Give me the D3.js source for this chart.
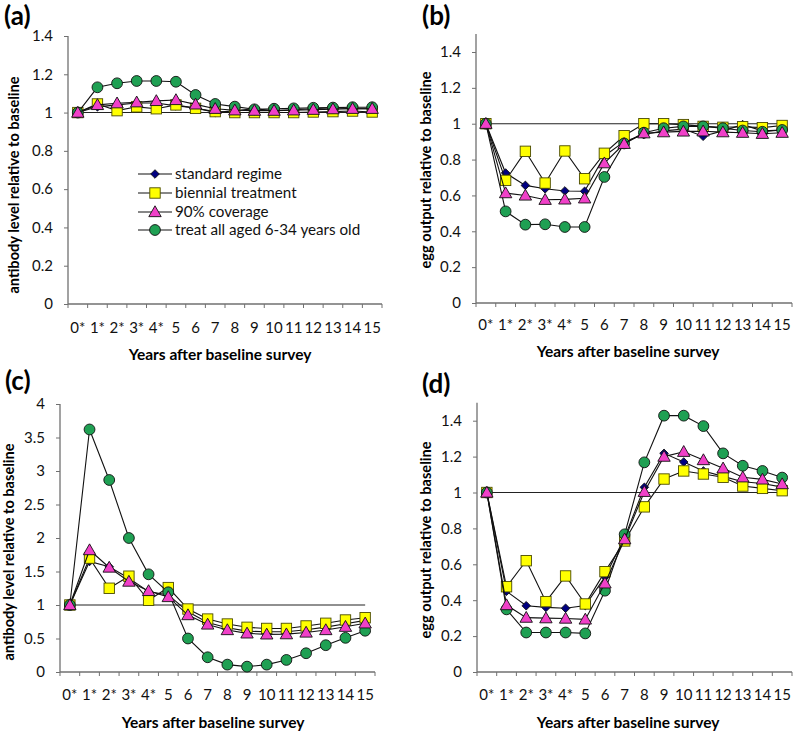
<!DOCTYPE html>
<html>
<head>
<meta charset="utf-8">
<script src="https://cdn.jsdelivr.net/npm/d3@7"></script>
<style>
  html, body { margin: 0; padding: 0; background: #fff; }
  svg { display: block; font-family: Lato, "Open Sans", sans-serif; }
</style>
</head>
<body>
<svg id="chart" width="795" height="734"></svg>
<script>
// ---------- data ----------
const categories = ["0*","1*","2*","3*","4*","5","6","7","8","9","10","11","12","13","14","15"];
const seriesNames = ["standard regime","biennial treatment","90% coverage","treat all aged 6-34 years old"];

// (a) antibody level, panel a
const aStandard = [1.0,1.03,1.04,1.05,1.05,1.035,1.025,1.0,1.01,1.02,1.01,1.015,1.02,1.025,1.02,1.02];
const aBiennial = [1.0,1.045,1.01,1.03,1.02,1.04,1.022,1.005,1.0,1.0,1.0,1.0,1.003,1.005,1.008,1.003];
const aCoverage = [1.0,1.04,1.049,1.054,1.061,1.066,1.043,1.02,1.012,1.01,1.01,1.012,1.015,1.018,1.02,1.02];
const aTreatAll = [1.0,1.132,1.153,1.165,1.165,1.161,1.092,1.045,1.031,1.017,1.02,1.022,1.025,1.026,1.028,1.028];

// (b) egg output, panel b
const bStandard = [1.0,0.725,0.656,0.637,0.625,0.623,0.82,0.9,0.94,0.96,0.97,0.93,0.96,0.995,0.96,0.965];
const bBiennial = [1.0,0.684,0.846,0.669,0.848,0.693,0.835,0.933,1.0,1.0,0.995,0.985,0.98,0.983,0.978,0.99];
const bCoverage = [1.0,0.613,0.60,0.576,0.578,0.584,0.78,0.888,0.947,0.953,0.957,0.958,0.953,0.95,0.944,0.95];
const bTreatAll = [1.0,0.511,0.437,0.439,0.424,0.424,0.703,0.89,0.95,0.975,0.985,0.985,0.975,0.962,0.955,0.965];

// (c) antibody level, panel c
const cStandard = [1.0,1.65,1.57,1.4,1.2,1.15,0.9,0.74,0.66,0.61,0.6,0.6,0.63,0.67,0.72,0.77];
const cBiennial = [1.0,1.70,1.25,1.43,1.07,1.26,0.94,0.79,0.716,0.667,0.65,0.65,0.687,0.727,0.776,0.81];
const cCoverage = [1.0,1.82,1.56,1.35,1.21,1.12,0.85,0.71,0.627,0.577,0.562,0.565,0.59,0.627,0.676,0.727];
const cTreatAll = [1.0,3.62,2.866,2.0,1.458,1.19,0.50,0.22,0.11,0.08,0.11,0.18,0.28,0.40,0.51,0.616];

// (d) egg output, panel d
const dStandard = [1.0,0.45,0.369,0.36,0.355,0.37,0.53,0.75,1.029,1.218,1.17,1.12,1.09,1.06,1.05,1.03];
const dBiennial = [1.0,0.475,0.62,0.392,0.535,0.379,0.559,0.73,0.92,1.075,1.12,1.103,1.085,1.036,1.023,1.01];
const dCoverage = [1.0,0.373,0.303,0.30,0.298,0.293,0.494,0.74,1.004,1.2,1.227,1.181,1.135,1.085,1.073,1.047];
const dTreatAll = [1.0,0.349,0.22,0.22,0.22,0.215,0.453,0.767,1.168,1.428,1.428,1.37,1.218,1.149,1.12,1.083];

const baselineRef = categories.map(() => 1);

const aTicks = [0,0.2,0.4,0.6,0.8,1,1.2,1.4];
const bTicks = [0,0.2,0.4,0.6,0.8,1,1.2,1.4];
const cTicks = [0,0.5,1,1.5,2,2.5,3,3.5,4];
const dTicks = [0,0.2,0.4,0.6,0.8,1,1.2,1.4];

const xTitle = "Years after baseline survey";

// ---------- styles ----------
const styles = [
  {shape: "diamond", fill: "#000080", size: 4.3},
  {shape: "square", fill: "#FFFF00", size: 5.2},
  {shape: "triangle", fill: "#F040C8", size: 6.2},
  {shape: "circle", fill: "#1FA053", size: 5.4}
];
const drawOrder = [0, 1, 3, 2];

const panels = [
  {label: "(a)", lx: 4, ly: 25, x0: 68, x1: 382, yB: 304, yT: 36, ymax: 1.4, ticks: aTicks,
   data: [aStandard, aBiennial, aCoverage, aTreatAll],
   ytitle: "antibody level relative to baseline", ytx: 19, yty: 185, tickY: 333, titleY: 360, titleX: 220, legend: true},
  {label: "(b)", lx: 422, ly: 25, x0: 476, x1: 792, yB: 303, yT: 52, ymax: 1.4, top: 1.5, ticks: bTicks,
   data: [bStandard, bBiennial, bCoverage, bTreatAll],
   ytitle: "egg output relative to baseline", ytx: 431, yty: 170, tickY: 330, titleY: 357, titleX: 628},
  {label: "(c)", lx: 5, ly: 390, x0: 60, x1: 375, yB: 672, yT: 404, ymax: 4, ticks: cTicks,
   data: [cStandard, cBiennial, cCoverage, cTreatAll],
   ytitle: "antibody level relative to baseline", ytx: 14, yty: 552, tickY: 700, titleY: 728, titleX: 213},
  {label: "(d)", lx: 422, ly: 393, x0: 477, x1: 792, yB: 672, yT: 420.7, ymax: 1.4, top: 1.5, ticks: dTicks,
   data: [dStandard, dBiennial, dCoverage, dTreatAll],
   ytitle: "egg output relative to baseline", ytx: 431, yty: 540, tickY: 700, titleY: 728, titleX: 628}
];

const svg = d3.select("#chart");

function drawMarker(g, shape, cx, cy, s, fill) {
  let el;
  if (shape === "circle") {
    el = g.append("circle").attr("cx", cx).attr("cy", cy).attr("r", s);
  } else if (shape === "square") {
    el = g.append("rect").attr("x", cx - s).attr("y", cy - s).attr("width", 2*s).attr("height", 2*s);
  } else if (shape === "triangle") {
    el = g.append("path").attr("d", `M${cx},${cy - s}L${cx + s},${cy + s*0.75}L${cx - s},${cy + s*0.75}Z`);
  } else {
    el = g.append("path").attr("d", `M${cx},${cy - s}L${cx + s},${cy}L${cx},${cy + s}L${cx - s},${cy}Z`);
  }
  el.attr("fill", fill).attr("stroke", shape === "square" ? "#4a4a00" : "#111").attr("stroke-width", 0.9);
  return el;
}

panels.forEach(p => {
  const x = d3.scaleBand().domain(categories).range([p.x0, p.x1]).padding(0);
  const top = p.top || p.ymax;
  const y = d3.scaleLinear().domain([0, p.ymax]).range([p.yB, p.yT]);
  const g = svg.append("g");

  // panel label
  g.append("text").attr("x", p.lx).attr("y", p.ly).text(p.label)
    .attr("font-size", 26).attr("font-weight", "bold").attr("fill", "#000");

  // y axis
  const yAxis = d3.axisLeft(y).tickValues(p.ticks).tickSize(4).tickPadding(11)
    .tickFormat(d => String(d));
  const ya = g.append("g").attr("transform", `translate(${p.x0},0)`).call(yAxis);
  ya.select(".domain").remove();
  ya.selectAll(".tick line").attr("stroke", "#707070");
  ya.selectAll(".tick text").attr("font-size", 15).attr("fill", "#111").attr("font-family", "Lato, sans-serif");
  g.append("line").attr("x1", p.x0).attr("x2", p.x0).attr("y1", p.yB).attr("y2", y(top))
    .attr("stroke", "#707070").attr("stroke-width", 1.3);

  // x axis
  const xa = d3.axisBottom(x).tickSize(0).tickPadding(0);
  const xg = g.append("g").attr("transform", `translate(0,${p.yB})`).call(xa);
  xg.select(".domain").remove();
  xg.selectAll(".tick text").attr("font-size", 15).attr("fill", "#111")
    .attr("dy", null).attr("y", p.tickY - p.yB).attr("font-family", "Lato, sans-serif");
  g.append("line").attr("x1", p.x0).attr("x2", p.x1).attr("y1", p.yB).attr("y2", p.yB)
    .attr("stroke", "#707070").attr("stroke-width", 1.3);
  const edges = categories.map(c => x(c)).concat([p.x1]);
  g.selectAll(".xedge").data(edges).join("line")
    .attr("x1", d => d).attr("x2", d => d).attr("y1", p.yB).attr("y2", p.yB + 4)
    .attr("stroke", "#707070");

  // titles
  g.append("text").attr("x", p.titleX).attr("y", p.titleY).attr("text-anchor", "middle")
    .attr("font-size", 15.5).attr("font-weight", "bold").text(xTitle);
  g.append("text").attr("transform", `translate(${p.ytx},${p.yty}) rotate(-90)`)
    .attr("text-anchor", "middle").attr("font-size", 14.6).attr("font-weight", "bold").text(p.ytitle);

  const cx = c => x(c) + x.bandwidth() / 2;
  const line = d3.line().x((d, i) => cx(categories[i])).y(d => y(d));

  // reference line at 1
  g.append("path").datum(baselineRef).attr("d", line).attr("fill", "none")
    .attr("stroke", "#222").attr("stroke-width", 1.1);

  drawOrder.forEach(si => {
    const vals = p.data[si];
    const st = styles[si];
    g.append("path").datum(vals).attr("d", line).attr("fill", "none")
      .attr("stroke", "#111").attr("stroke-width", 1.1);
    const mg = g.append("g");
    vals.forEach((v, i) => drawMarker(mg, st.shape, cx(categories[i]), y(v), st.size, st.fill));
  });

  if (p.legend) {
    const lg = g.append("g");
    const rows = [174, 193, 212, 230];
    seriesNames.forEach((name, i) => {
      lg.append("line").attr("x1", 138).attr("x2", 172).attr("y1", rows[i]).attr("y2", rows[i])
        .attr("stroke", "#111").attr("stroke-width", 1.1);
      drawMarker(lg, styles[i].shape, 155, rows[i], styles[i].size, styles[i].fill);
      lg.append("text").attr("x", 175).attr("y", rows[i] + 5).attr("font-size", 15.2)
        .attr("fill", "#111").text(name);
    });
  }
});
</script>
</body>
</html>
